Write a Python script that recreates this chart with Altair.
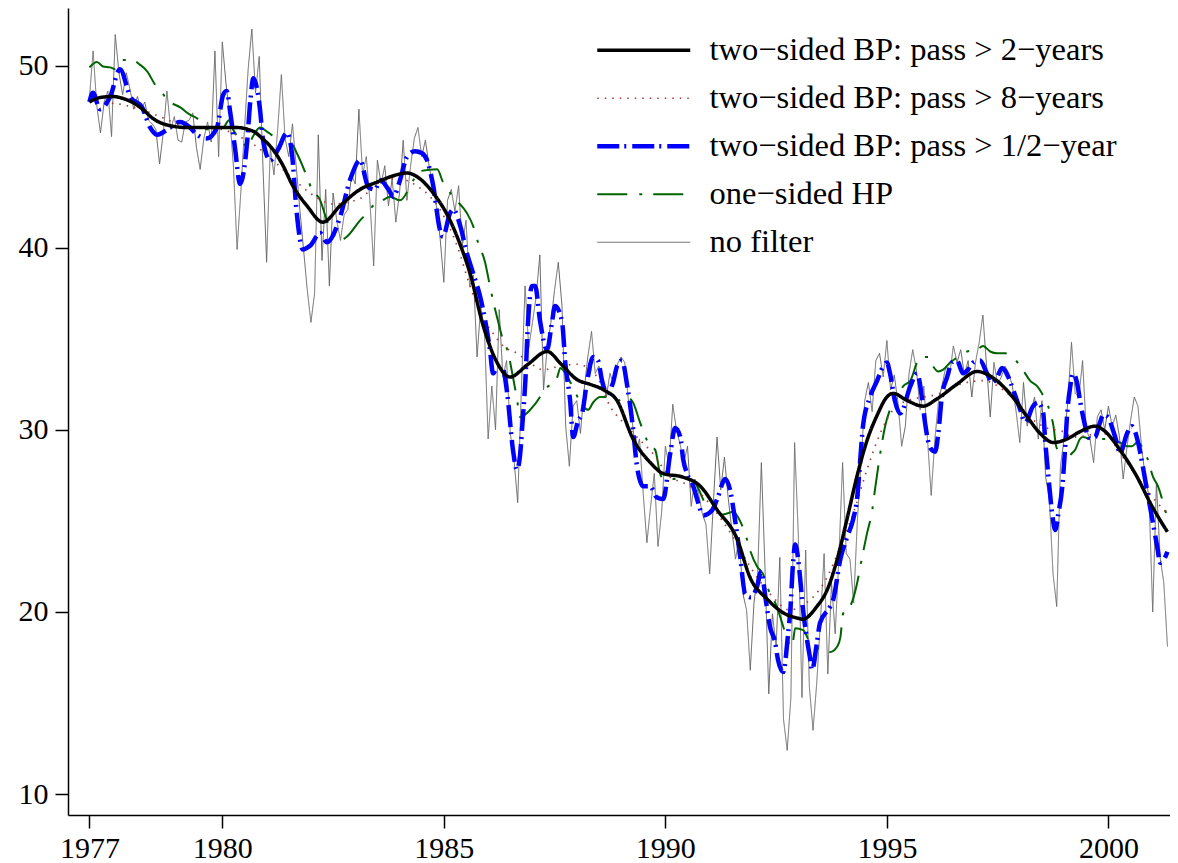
import altair as alt
import pandas as pd

# ---------------- raw monthly series (no filter), Jan 1977 - May 2001 ----------------
raw_1977 = [48.2, 50.8, 47.8, 46.3, 48.0, 48.6, 46.1, 51.7, 49.6, 48.4, 49.6, 48.7]
raw_1978 = [47.6, 48.3, 47.6, 48.0, 47.0, 46.8, 46.5, 44.6, 46.3, 48.6, 46.5, 47.2]
raw_1979 = [45.9, 45.8, 46.9, 47.0, 47.4, 45.5, 44.3, 46.0, 46.9, 45.8, 50.8, 45.0]
raw_1980 = [51.3, 49.0, 47.2, 44.5, 39.9, 43.0, 46.5, 49.8, 52.0, 48.5, 50.5, 44.5]
raw_1981 = [39.2, 45.5, 44.0, 46.5, 49.5, 46.0, 45.0, 46.8, 44.5, 42.1, 39.9, 37.7]
raw_1982 = [35.9, 37.5, 46.2, 39.3, 43.2, 37.9, 43.0, 41.5, 40.4, 41.8, 42.1, 44.0]
raw_1983 = [43.5, 47.6, 44.0, 45.0, 42.5, 39.0, 44.8, 43.5, 44.5, 42.3, 43.8, 41.4]
raw_1984 = [43.0, 45.9, 42.6, 44.5, 46.0, 46.6, 45.0, 45.9, 44.5, 43.4, 42.3, 40.5]
raw_1985 = [38.1, 42.6, 43.2, 42.0, 43.4, 40.1, 41.5, 37.9, 38.5, 34.0, 36.8, 35.5]
raw_1986 = [29.5, 32.4, 30.0, 36.6, 32.9, 33.8, 29.8, 28.4, 26.0, 32.2, 37.9, 34.5]
raw_1987 = [35.9, 37.3, 39.6, 32.2, 34.5, 35.9, 37.7, 39.2, 36.8, 30.2, 28.0, 31.3]
raw_1988 = [31.6, 29.8, 32.2, 34.0, 35.4, 33.1, 33.5, 32.7, 31.8, 33.1, 32.5, 33.6]
raw_1989 = [34.0, 33.7, 31.6, 30.5, 28.7, 29.5, 26.5, 23.8, 25.8, 27.6, 23.6, 25.5]
raw_1990 = [29.1, 28.0, 31.4, 30.0, 29.2, 28.2, 29.1, 25.8, 27.3, 26.5, 25.4, 24.8]
raw_1991 = [22.1, 26.0, 29.6, 26.7, 28.5, 26.3, 24.5, 22.9, 24.0, 21.0, 20.1, 16.8]
raw_1992 = [20.5, 22.1, 28.2, 22.3, 15.5, 19.9, 18.1, 23.0, 14.1, 12.4, 15.3, 29.3]
raw_1993 = [24.3, 15.3, 23.4, 15.9, 13.5, 16.1, 19.5, 23.2, 16.6, 21.6, 18.8, 23.0]
raw_1994 = [28.2, 23.2, 22.9, 20.5, 25.0, 28.2, 31.6, 32.6, 31.0, 33.8, 34.2, 32.9]
raw_1995 = [34.9, 32.2, 33.0, 31.5, 29.1, 30.2, 33.1, 34.4, 33.3, 31.1, 32.4, 29.5]
raw_1996 = [26.4, 29.5, 31.6, 32.5, 33.5, 33.0, 34.6, 33.7, 34.4, 33.0, 33.8, 31.8]
raw_1997 = [33.7, 34.8, 36.3, 33.5, 30.7, 33.7, 32.5, 32.9, 33.5, 33.1, 32.4, 31.0]
raw_1998 = [29.3, 32.6, 30.2, 31.0, 31.8, 29.5, 31.6, 27.4, 26.2, 22.1, 20.3, 28.0]
raw_1999 = [29.5, 31.5, 34.8, 32.0, 31.8, 33.8, 30.0, 29.5, 28.2, 30.7, 31.1, 30.0]
raw_2000 = [31.3, 30.2, 30.8, 29.6, 27.3, 29.0, 30.5, 31.8, 31.3, 29.0, 27.4, 26.3]
raw_2001 = [20.0, 27.1, 23.0, 21.6, 18.1]

raw_values = (raw_1977 + raw_1978 + raw_1979 + raw_1980 + raw_1981 + raw_1982 + raw_1983
              + raw_1984 + raw_1985 + raw_1986 + raw_1987 + raw_1988 + raw_1989 + raw_1990
              + raw_1991 + raw_1992 + raw_1993 + raw_1994 + raw_1995 + raw_1996 + raw_1997
              + raw_1998 + raw_1999 + raw_2000 + raw_2001)
raw_t = [1977 + i / 12 for i in range(len(raw_values))]

# ---------------- two-sided BP, pass > 2 years ----------------
bp2_t = [1977.0, 1977.25, 1977.53, 1977.75, 1977.98, 1978.2, 1978.43, 1978.82, 1979.2, 1979.5,
         1979.95, 1980.3, 1980.69, 1980.9, 1981.14, 1981.35, 1981.59, 1981.91, 1982.27, 1982.66,
         1983.11, 1983.49, 1983.8, 1984.17, 1984.45, 1984.76, 1985.14, 1985.38, 1985.59, 1985.89,
         1986.2, 1986.49, 1986.9, 1987.33, 1987.65, 1988.01, 1988.3, 1988.6, 1988.91, 1989.27,
         1989.66, 1989.95, 1990.4, 1990.79, 1991.17, 1991.62, 1991.91, 1992.3, 1992.66, 1993.0,
         1993.1, 1993.42, 1993.65, 1993.88, 1994.1, 1994.33, 1994.55, 1994.78, 1995.0, 1995.14,
         1995.46, 1995.82, 1996.13, 1996.58, 1997.03, 1997.48, 1997.84, 1998.17, 1998.46, 1998.76,
         1999.07, 1999.36, 1999.7, 1999.88, 2000.26, 2000.65, 2000.94, 2001.33]
bp2_v = [48.0, 48.25, 48.3, 48.2, 47.97, 47.6, 47.1, 46.7, 46.6, 46.6,
         46.6, 46.6, 46.4, 46.0, 45.4, 44.6, 43.4, 42.3, 41.4, 42.3,
         43.2, 43.6, 43.9, 44.1, 43.8, 43.0, 41.5, 40.1, 38.6, 35.7,
         33.7, 32.9, 33.6, 34.3, 33.6, 32.75, 32.5, 32.2, 31.6, 29.5,
         28.2, 27.6, 27.4, 26.9, 25.6, 24.0, 21.9, 20.7, 19.95, 19.65,
         19.6, 20.3, 21.2, 22.9, 25.1, 27.5, 29.4, 30.8, 31.8, 32.0,
         31.6, 31.3, 31.7, 32.5, 33.2, 32.7, 31.8, 30.7, 29.8, 29.3,
         29.5, 29.9, 30.2, 30.0, 28.9, 27.4, 26.0, 24.4]

# ---------------- two-sided BP, pass > 8 years ----------------
bp8_t = [1977.0, 1977.62, 1978.14, 1978.59, 1978.89, 1979.4, 1979.97, 1980.47, 1980.69, 1981.14,
         1981.68, 1981.98, 1982.5, 1983.11, 1983.49, 1983.94, 1984.39, 1984.69, 1984.91, 1985.3,
         1985.59, 1985.82, 1986.11, 1986.34, 1986.65, 1986.88, 1987.24, 1987.63, 1988.01, 1988.46,
         1988.75, 1989.05, 1989.36, 1989.72, 1990.11, 1990.4, 1990.79, 1991.17, 1991.53, 1991.91,
         1992.36, 1992.82, 1993.04, 1993.33, 1993.65, 1993.95, 1994.24, 1994.55, 1994.85, 1995.14,
         1995.46, 1995.82, 1996.2, 1996.43, 1996.81, 1997.17, 1997.62, 1997.94, 1998.23, 1998.61,
         1998.98, 1999.2, 1999.88, 2000.33, 2000.65, 2001.1, 2001.33]
bp8_v = [48.0, 47.9, 47.6, 47.2, 46.9, 46.6, 46.5, 46.0, 45.7, 44.8,
         43.6, 43.0, 42.4, 42.7, 43.5, 43.8, 43.4, 42.8, 42.1, 40.1,
         37.9, 36.4, 35.3, 34.6, 34.2, 33.8, 33.3, 33.5, 33.6, 32.9,
         31.3, 30.4, 29.6, 28.7, 27.4, 27.1, 26.5, 25.4, 24.1, 22.5,
         21.0, 20.1, 20.3, 20.8, 21.9, 23.6, 25.4, 27.8, 29.8, 31.1,
         31.6, 31.8, 32.0, 32.3, 32.6, 32.7, 32.2, 31.5, 30.7, 30.1,
         29.9, 29.6, 29.8, 28.5, 27.4, 26.0, 25.4]

# ---------------- two-sided BP, pass > 1/2 year ----------------
bp05_t = [1977.0, 1977.08, 1977.24, 1977.47, 1977.69, 1977.92, 1978.19, 1978.37, 1978.53, 1978.71,
          1979.05, 1979.27, 1979.43, 1979.65, 1979.88, 1980.02, 1980.1, 1980.18, 1980.29, 1980.4,
          1980.56, 1980.63, 1980.7, 1980.85, 1980.92, 1981.08, 1981.26, 1981.46, 1981.57, 1981.68,
          1981.82, 1981.98, 1982.21, 1982.36, 1982.66, 1982.88, 1983.11, 1983.3, 1983.45, 1983.56,
          1983.75, 1983.86, 1984.01, 1984.17, 1984.35, 1984.5, 1984.62, 1984.76, 1984.91, 1984.98,
          1985.14, 1985.21, 1985.37, 1985.52, 1985.66, 1985.82, 1986.04, 1986.11, 1986.22, 1986.34,
          1986.43, 1986.56, 1986.65, 1986.72, 1986.77, 1986.84, 1986.9, 1986.99, 1987.06, 1987.17,
          1987.33, 1987.44, 1987.51, 1987.67, 1987.74, 1987.85, 1987.92, 1988.03, 1988.12, 1988.23,
          1988.37, 1988.48, 1988.57, 1988.68, 1988.82, 1988.91, 1989.02, 1989.14, 1989.25, 1989.36,
          1989.5, 1989.66, 1989.8, 1989.95, 1990.11, 1990.22, 1990.34, 1990.4, 1990.49, 1990.63,
          1990.74, 1990.85, 1991.06, 1991.17, 1991.35, 1991.46, 1991.57, 1991.69, 1991.8, 1991.93,
          1992.07, 1992.16, 1992.27, 1992.36, 1992.48, 1992.54, 1992.66, 1992.77, 1992.82, 1992.88,
          1992.93, 1992.98, 1993.04, 1993.1, 1993.19, 1993.27, 1993.31, 1993.42, 1993.49, 1993.72,
          1993.79, 1993.95, 1994.1, 1994.24, 1994.33, 1994.4, 1994.46, 1994.62, 1994.78, 1994.92,
          1995.0, 1995.07, 1995.18, 1995.3, 1995.53, 1995.68, 1995.79, 1995.86, 1995.98, 1996.09,
          1996.16, 1996.24, 1996.36, 1996.47, 1996.58, 1996.72, 1996.83, 1996.95, 1997.1, 1997.26,
          1997.38, 1997.49, 1997.6, 1997.74, 1997.85, 1998.01, 1998.12, 1998.3, 1998.41, 1998.53,
          1998.57, 1998.64, 1998.73, 1998.8, 1998.87, 1998.96, 1999.02, 1999.07, 1999.14, 1999.2,
          1999.29, 1999.36, 1999.43, 1999.52, 1999.59, 1999.7, 1999.81, 1999.88, 1999.99, 2000.1,
          2000.19, 2000.26, 2000.42, 2000.53, 2000.67, 2000.76, 2000.87, 2000.99, 2001.1, 2001.17,
          2001.28, 2001.33]
bp05_v = [48.0, 48.5, 47.6, 48.3, 49.8, 48.3, 47.7, 46.6, 46.2, 46.4,
          46.9, 46.6, 46.2, 46.0, 46.6, 48.4, 48.6, 47.4, 45.4, 43.5,
          45.8, 48.0, 49.3, 47.6, 45.9, 44.8, 45.4, 46.3, 45.2, 41.9,
          39.9, 40.1, 40.8, 40.3, 41.7, 43.7, 44.8, 43.3, 43.2, 43.7,
          43.2, 42.8, 43.7, 45.0, 45.3, 45.2, 44.8, 43.4, 41.0, 40.6,
          41.9, 42.1, 41.2, 39.7, 38.6, 37.3, 34.4, 33.1, 33.5, 33.3,
          32.0, 28.9, 27.8, 28.6, 30.2, 32.7, 35.9, 37.9, 37.9, 36.0,
          34.4, 35.9, 36.8, 35.9, 33.7, 31.6, 29.6, 30.5, 30.9, 32.6,
          34.0, 33.8, 32.7, 32.0, 32.6, 33.5, 33.8, 32.4, 30.5, 28.0,
          26.9, 26.9, 26.3, 26.2, 28.7, 30.1, 29.6, 28.4, 27.6, 26.9,
          26.0, 25.3, 25.6, 26.2, 27.3, 26.7, 25.1, 23.0, 21.0, 20.8,
          21.4, 22.2, 20.6, 19.2, 18.3, 17.4, 16.7, 18.8, 20.1, 22.6,
          23.7, 23.2, 21.9, 20.3, 18.6, 17.4, 16.8, 18.3, 19.4, 20.3,
          20.7, 22.9, 24.1, 25.1, 26.3, 28.4, 30.2, 31.8, 32.7, 33.5,
          33.7, 33.1, 31.6, 30.9, 32.4, 33.1, 31.8, 30.4, 29.0, 28.8,
          29.8, 31.8, 32.9, 33.7, 33.8, 33.1, 33.3, 33.7, 33.8, 33.1,
          32.6, 32.9, 33.4, 32.9, 32.2, 31.1, 30.4, 31.3, 31.5, 30.9,
          29.5, 27.6, 25.4, 24.5, 25.4, 26.9, 28.9, 30.9, 32.4, 33.1,
          32.6, 31.6, 30.7, 29.8, 29.5, 29.6, 30.4, 30.8, 30.7, 30.0,
          29.3, 28.7, 29.8, 30.2, 29.3, 28.2, 26.7, 25.1, 23.6, 22.7,
          23.0, 23.3]

# ---------------- one-sided HP ----------------
hp_t = [1977.0, 1977.17, 1977.31, 1977.47, 1977.58, 1977.74, 1977.96, 1978.14, 1978.3, 1978.48,
        1978.64, 1978.77, 1979.05, 1979.27, 1979.43, 1979.65, 1979.79, 1980.02, 1980.15, 1980.24,
        1980.47, 1980.56, 1980.69, 1980.85, 1981.05, 1981.26, 1981.46, 1981.68, 1981.91, 1982.02,
        1982.21, 1982.36, 1982.5, 1982.66, 1982.81, 1983.11, 1983.27, 1983.4, 1983.56, 1983.79,
        1984.01, 1984.31, 1984.46, 1984.85, 1984.98, 1985.21, 1985.52, 1985.66, 1985.77, 1985.93,
        1986.04, 1986.11, 1986.22, 1986.34, 1986.43, 1986.56, 1986.65, 1986.72, 1986.95, 1987.17,
        1987.24, 1987.56, 1987.63, 1987.79, 1987.9, 1988.14, 1988.26, 1988.37, 1988.53, 1988.75,
        1988.91, 1989.14, 1989.27, 1989.43, 1989.66, 1989.77, 1989.88, 1989.95, 1990.3, 1990.56,
        1990.72, 1990.83, 1991.01, 1991.17, 1991.39, 1991.53, 1991.64, 1991.84, 1991.91, 1992.07,
        1992.2, 1992.36, 1992.48, 1992.66, 1992.75, 1992.86, 1992.93, 1993.11, 1993.27, 1993.56,
        1993.72, 1993.88, 1993.95, 1994.01, 1994.17, 1994.33, 1994.4, 1994.55, 1994.67, 1994.73,
        1994.85, 1994.96, 1995.07, 1995.23, 1995.37, 1995.53, 1995.68, 1995.75, 1995.93, 1996.04,
        1996.16, 1996.27, 1996.43, 1996.61, 1996.81, 1997.03, 1997.17, 1997.33, 1997.49, 1997.67,
        1998.01, 1998.12, 1998.23, 1998.39, 1998.5, 1998.69, 1998.76, 1998.82, 1999.07, 1999.14,
        1999.25, 1999.36, 1999.43, 1999.59, 1999.97, 2000.1, 2000.26, 2000.42, 2000.53, 2000.65,
        2000.87, 2001.01, 2001.12, 2001.28, 2001.33]
hp_v = [49.9, 50.2, 49.95, 49.9, 49.8, 50.3, 50.3, 50.05, 49.7, 48.96,
        48.5, 48.1, 47.7, 47.3, 47.1, 46.5, 46.6, 46.6, 47.0, 46.5,
        45.8, 45.5, 46.1, 46.6, 46.3, 46.0, 46.1, 45.2, 43.9, 43.2,
        42.6, 41.5, 40.8, 40.4, 40.6, 41.5, 41.9, 42.3, 42.5, 42.8,
        42.6, 43.7, 44.2, 44.3, 43.6, 42.8, 41.9, 41.2, 40.3, 39.2,
        37.9, 37.1, 36.0, 34.9, 34.4, 32.9, 31.7, 30.7, 31.1, 31.8,
        32.1, 32.9, 33.4, 32.9, 32.4, 31.3, 31.1, 31.5, 31.8, 31.8,
        31.6, 31.8, 31.5, 30.4, 29.1, 28.9, 27.6, 27.3, 27.3, 27.3,
        26.9, 26.3, 25.4, 25.3, 25.4, 25.5, 25.2, 24.0, 23.4, 22.5,
        22.1, 21.0, 20.5, 19.2, 18.5, 18.1, 19.1, 19.0, 18.3, 17.9,
        17.8, 18.1, 18.6, 19.9, 20.3, 21.6, 22.5, 24.3, 25.6, 26.7,
        28.7, 30.2, 31.1, 31.8, 32.4, 32.7, 33.7, 34.0, 34.0, 33.5,
        33.2, 33.3, 33.7, 34.0, 34.3, 34.4, 34.6, 34.3, 34.2, 34.2,
        33.5, 33.1, 32.7, 32.4, 32.0, 30.9, 30.2, 29.1, 28.2, 28.6,
        28.9, 29.5, 29.6, 29.5, 29.5, 29.4, 29.3, 29.1, 29.1, 29.3,
        28.5, 27.4, 26.9, 25.6, 25.2]

assert len(bp2_t) == len(bp2_v)
assert len(bp8_t) == len(bp8_v)
assert len(bp05_t) == len(bp05_v), (len(bp05_t), len(bp05_v))
assert len(hp_t) == len(hp_v), (len(hp_t), len(hp_v))

# ---------------- labels and styles ----------------
series_names = ["two\u2212sided BP: pass > 2\u2212years",
                "two\u2212sided BP: pass > 8\u2212years",
                "two\u2212sided BP: pass > 1/2\u2212year",
                "one\u2212sided HP",
                "no filter"]
series_colors = ["#000000", "#a83c3c", "#0000ff", "#006400", "#666666"]
series_dashes = [[1, 0], [1.5, 6], [22, 5, 2, 6], [30, 12, 3, 11], [1, 0]]
series_widths = [3.5, 1.7, 4.5, 2.0, 1.0]
series_interp = ["monotone", "monotone", "monotone", "monotone", "linear"]
draw_order = [4, 3, 1, 2, 0]

x_ticks = [1977, 1980, 1985, 1990, 1995, 2000]
y_ticks = [10, 20, 30, 40, 50]

frames = [
    pd.DataFrame({"t": bp2_t, "v": bp2_v, "series": series_names[0]}),
    pd.DataFrame({"t": bp8_t, "v": bp8_v, "series": series_names[1]}),
    pd.DataFrame({"t": bp05_t, "v": bp05_v, "series": series_names[2]}),
    pd.DataFrame({"t": hp_t, "v": hp_v, "series": series_names[3]}),
    pd.DataFrame({"t": raw_t, "v": raw_values, "series": series_names[4]}),
]
df = pd.concat(frames, ignore_index=True)

width_expr = " : ".join(
    f"datum.value === '{n}' ? {w}" for n, w in zip(series_names[:-1], series_widths[:-1])
) + f" : {series_widths[-1]}"

legend = alt.Legend(
    orient="none",
    legendX=529,
    legendY=26,
    direction="vertical",
    symbolType="M -16 0 H 77",
    symbolSize=4,
    symbolOffset=0,
    symbolStrokeWidth=alt.ExprRef(expr=width_expr),
    labelOffset=80,
    labelFont="Liberation Serif",
    labelFontSize=32.5,
    labelColor="#000000",
    labelLimit=700,
    rowPadding=15,
    padding=0,
)

base = alt.Chart(df).encode(
    x=alt.X("t:Q",
            scale=alt.Scale(domain=[1976.517, 2001.39], nice=False, zero=False),
            axis=alt.Axis(values=x_ticks, format="d", title=None, labelPadding=29,
                          labelBaseline="alphabetic",
                          labelFlush=False, labelOverlap=False)),
    y=alt.Y("v:Q",
            scale=alt.Scale(domain=[8.85, 53.16], nice=False, zero=False),
            axis=alt.Axis(values=y_ticks, title=None, labelPadding=7,
                          labelFlush=False, labelOverlap=False)),
    color=alt.Color("series:N", title=None,
                    scale=alt.Scale(domain=series_names, range=series_colors),
                    legend=legend),
    strokeDash=alt.StrokeDash("series:N", title=None,
                              scale=alt.Scale(domain=series_names, range=series_dashes),
                              legend=legend),
)

layers = []
for k in draw_order:
    layers.append(
        base.transform_filter(alt.datum.series == series_names[k]).mark_line(
            strokeWidth=series_widths[k], interpolate=series_interp[k],
            clip=True, strokeCap="butt", strokeJoin="round")
    )

chart = alt.layer(*layers).properties(
    width=1102,
    height=807,
    autosize=alt.AutoSizeParams(type="none"),
    padding={"left": 60, "top": 0, "right": 0, "bottom": 48},
    background="#ffffff",
).configure_view(
    strokeWidth=0
).configure_axis(
    grid=False,
    domainColor="#000000",
    domainWidth=1.5,
    tickColor="#000000",
    tickWidth=1.5,
    tickSize=13,
    labelFont="Liberation Serif",
    labelFontSize=30,
    labelColor="#000000",
)

chart.save("out.html", embed_options={"renderer": "svg", "actions": False})
